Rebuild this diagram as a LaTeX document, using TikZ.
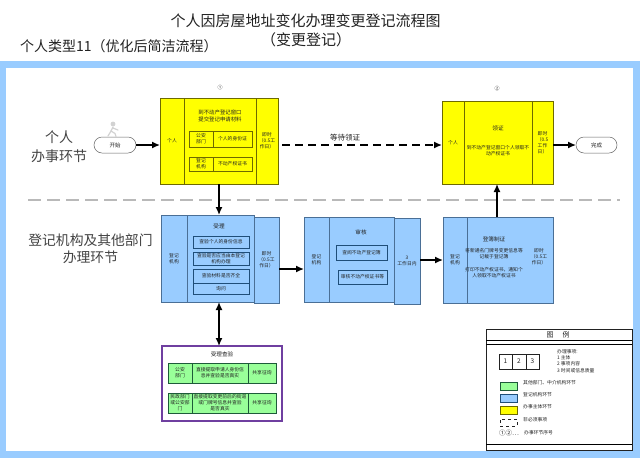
\documentclass[tikz,border=0pt]{standalone}
\usepackage{fontspec}
\setmainfont{Noto Sans CJK SC}
\usetikzlibrary{arrows.meta,calc}
\definecolor{regblue}{HTML}{99CCFF}
\definecolor{ownyellow}{HTML}{FFFF00}
\definecolor{agencygreen}{HTML}{99FF99}
\definecolor{ink}{HTML}{222222}
\definecolor{olive}{HTML}{6E6A00}
\definecolor{steel}{HTML}{4A6F96}
\definecolor{navy}{HTML}{1F4E79}
\definecolor{dkgreen}{HTML}{1E5B3A}
\definecolor{violet}{HTML}{6F3FA0}
\tikzset{
  txt/.style={text=ink,font=\fontsize{4.8}{6}\selectfont,align=center,inner sep=0pt},
  basebox/.style={txt,inner sep=0pt,outer sep=0pt,anchor=north west},
  yel/.style={basebox,draw=olive,fill=ownyellow,line width=.7pt},
  yelsub/.style={basebox,draw=olive,fill=ownyellow,line width=.6pt},
  blu/.style={basebox,draw=steel,fill=regblue,line width=.7pt},
  blusub/.style={basebox,draw=navy,fill=regblue,line width=.6pt},
  grn/.style={basebox,draw=dkgreen,fill=agencygreen,line width=.7pt},
  pill/.style={basebox,draw=ink!70,fill=white,rounded corners=8pt,line width=.5pt},
  flow/.style={draw=black,line width=1.4pt,-{Latex[length=8pt,width=7pt]}},
  plain/.style={draw=black,line width=.6pt},
  heading/.style={text=ink,inner sep=0pt,align=center}
}
% box given by its two corners: name, x1, y1, x2, y2, style, text
\newcommand{\bx}[7]{\node[#6,minimum width={#4-#2},minimum height={#5-#3}] (#1) at (#2,#3) {#7};}
\begin{document}
\begin{tikzpicture}[x=1pt,y=-1pt]
\useasboundingbox (0,0) rectangle (640,459);
\fill[white] (0,0) rectangle (640,459);

% outer band
\fill[regblue] (0,61) rectangle (640,458);
\fill[white] (6,68) rectangle (633,451);

% titles
\node[heading,font=\fontsize{15}{18}\selectfont] (title) at (305.5,21) {个人因房屋地址变化办理变更登记流程图};
\node[heading,font=\fontsize{15}{18}\selectfont] (subtitle) at (306,40) {（变更登记）};
\node[heading,font=\fontsize{14}{17}\selectfont,anchor=west] (kind) at (20,46) {个人类型11（优化后简洁流程）};

% lane labels and divider
\node[heading,text=ink!85,font=\fontsize{14}{19}\selectfont] (lanea) at (59,146.5) {个人\\办事环节};
\node[heading,text=ink!85,font=\fontsize{13.8}{17.5}\selectfont] (laneb) at (90.5,248.5) {登记机构及其他部门\\办理环节};
\coordinate (divl) at (28,200);
\coordinate (divr) at (620,200);
\draw[gray!55,line width=1.8pt,dash pattern=on 13pt off 6pt] (divl) -- (divr);

% start and finish
\bx{start}{94}{137}{136}{153}{pill}{\fontsize{5.5}{6}\selectfont 开始}
\bx{finish}{576}{137}{617}{153}{pill}{\fontsize{5.5}{6}\selectfont 完成}
\begin{scope}[gray!35,line width=1.2pt,line cap=round]
  \fill (113,124) circle (2.4);
  \draw (113,127) -- (111,131) -- (115,133.5) -- (116,136.5);
  \draw (111,131) -- (108,136);
  \draw (113,128) -- (118,130);
\end{scope}

% step 1: applicant submits
\node[txt,font=\fontsize{5}{6}\selectfont] (numa) at (220,88) {①};
\bx{ya}{160}{98}{278}{184}{yel}{}
\bx{yaa}{160}{98}{184}{184}{yel}{个人}
\bx{yac}{184}{98}{256}{184}{yel}{}
\bx{yat}{256}{98}{278}{184}{yel}{即时\\（0.5工\\作日）}
\node[txt,font=\fontsize{5.4}{7.4}\selectfont] (yah) at (220,116) {到不动产登记窗口\\提交登记申请材料};
\bx{ysa}{189}{131}{213}{147}{yelsub}{公安\\部门}
\bx{ysb}{213}{131}{252}{147}{yelsub}{个人的身份证}
\bx{ysc}{189}{157}{213}{171}{yelsub}{登记\\机构}
\bx{ysd}{213}{157}{252}{171}{yelsub}{不动产权证书}

% step 2: applicant collects
\node[txt,font=\fontsize{5}{6}\selectfont] (numb) at (497,89) {②};
\bx{yb}{442}{101}{553}{184}{yel}{}
\bx{yba}{442}{101}{464}{184}{yel}{个人}
\bx{ybc}{464}{101}{532}{184}{yel}{}
\bx{ybt}{532}{101}{553}{184}{yel}{即时\\（0.5\\工作\\日）}
\node[txt,font=\fontsize{5.6}{7}\selectfont] (ybh) at (498,128) {领证};
\node[txt] (ybx) at (498,151) {到不动产登记窗口个人领取不\\动产权证书};

% acceptance
\bx{bat}{254}{217}{279}{303}{blu}{即时\\（0.5工\\作日）}
\bx{ba}{161}{215}{254}{302}{blu}{}
\bx{baa}{161}{215}{187}{302}{blu}{登记\\机构}
\node[txt,font=\fontsize{5.6}{7}\selectfont] (bah) at (219,226) {受理};
\bx{bsa}{193}{236}{249}{248}{blusub}{查验个人的身份信息}
\bx{bsb}{193}{252}{249}{265}{blusub}{查验是否应当由本登记\\机构办理}
\bx{bsc}{193}{269}{249}{283}{blusub}{查验材料是否齐全}
\bx{bsd}{193}{283}{249}{294}{blusub}{询问}

% review
\bx{bbt}{394}{218}{420}{304}{blu}{3\\工作日内}
\bx{bb}{304}{217}{394}{302}{blu}{}
\bx{bba}{304}{217}{329}{302}{blu}{登记\\机构}
\node[txt,font=\fontsize{5.6}{7}\selectfont] (bbh) at (361,232) {审核};
\bx{bsf}{336}{245}{387}{260}{blusub}{查阅不动产登记簿}
\bx{bsg}{338}{270}{387}{284}{blusub}{审核不动产权证书等}

% entry and certificate
\bx{bc}{443}{217}{553}{303}{blu}{}
\bx{bca}{443}{217}{467}{303}{blu}{登记\\机构}
\node[txt,font=\fontsize{5.6}{7}\selectfont] (bch) at (494,239) {登簿制证};
\node[txt] (bcx) at (494,254) {将新通名门牌号变更信息等\\记载于登记簿};
\node[txt] (bcy) at (494,273) {打印不动产权证书，通知个\\人领取不动产权证书};
\node[txt] (bct) at (539,257) {即时\\（0.5工\\作日）};

% joint inspection
\bx{gout}{162}{346}{282}{421}{basebox,draw=violet,fill=white,line width=1.3pt}{}
\node[txt,font=\fontsize{5.6}{7}\selectfont] (gh) at (222,354) {受理查验};
\bx{gaa}{168}{363}{192}{383}{grn}{公安\\部门}
\bx{gab}{192}{363}{248}{383}{grn}{直接提取申请人身份信\\息并查验是否真实}
\bx{gac}{248}{363}{276}{383}{grn}{共享征询}
\bx{gba}{168}{393}{192}{413}{grn}{民政部门\\或公安部\\门}
\bx{gbb}{192}{393}{248}{413}{grn}{直接提取变更前后的街道\\或门牌号信息并查验\\是否真实}
\bx{gbc}{248}{393}{276}{413}{grn}{共享征询}

% connectors
\draw[flow] (start.east) -- (start.east -| ya.west);
\draw[flow,dash pattern=on 8pt off 5pt] ([xshift=4pt]ya.east |- start.east) -- (yb.west |- start.east);
\node[heading,font=\fontsize{7.5}{9}\selectfont,inner xsep=1pt] (wait) at (345,138) {等待领证};
\draw[flow] (yb.east |- finish.west) -- (finish.west);
\draw[flow] (ya.south -| bah) -- (ba.north -| bah);
\draw[flow] (bat.east |- bsc.north) -- (bba.west |- bsc.north);
\draw[flow] (bbt.east |- bsf.south) -- (bca.west |- bsf.south);
\draw[flow] (bc.north -| numb) -- (yb.south -| numb);
\draw[draw=black,line width=1.4pt,{Latex[length=8pt,width=7pt]}-{Latex[length=8pt,width=7pt]}] (ba.south -| bah) -- (gout.north -| bah);

% legend
\bx{lg}{486}{329}{632}{450}{basebox,draw=ink,fill=white,line width=.8pt}{}
\coordinate (lga) at (486,340); \coordinate (lgb) at (486,344); \coordinate (lgc) at (486,444);
\draw[plain] (lga) -- (lga -| lg.east);
\draw[plain] (lgb) -- (lgb -| lg.east);
\draw[plain] (lgc) -- (lgc -| lg.east);
\node[txt,font=\fontsize{7}{8}\selectfont] (lgt) at (558,335) {图\hspace{9pt}例};
\bx{la}{499}{354}{512}{369}{basebox,draw=ink,fill=white,line width=.5pt}{\fontsize{6.5}{7}\selectfont 1}
\bx{lb}{512}{354}{526}{369}{basebox,draw=ink,fill=white,line width=.5pt}{\fontsize{6.5}{7}\selectfont 2}
\bx{lc}{526}{354}{539}{369}{basebox,draw=ink,fill=white,line width=.5pt}{\fontsize{6.5}{7}\selectfont 3}
\node[txt,anchor=north west,align=left,font=\fontsize{4.8}{6.3}\selectfont] (lnote) at (557,349) {办理事项:\\1 主体\\2 事项内容\\3 时间或信息质量};
\bx{lsa}{500}{382}{517}{390}{basebox,draw=dkgreen,fill=agencygreen,line width=.8pt}{}
\bx{lsb}{500}{394}{517}{402}{basebox,draw=navy,fill=regblue,line width=.8pt}{}
\bx{lsc}{500}{406}{517}{414}{basebox,draw=olive,fill=ownyellow,line width=.8pt}{}
\bx{lsd}{500}{419}{517}{426}{basebox,draw=ink,dashed,line width=.8pt}{}
\node[txt,anchor=west] (lta) at (523,383) {其他部门、中介机构环节};
\node[txt,anchor=west] (ltb) at (523,395) {登记机构环节};
\node[txt,anchor=west] (ltc) at (523,407) {办事主体环节};
\node[txt,anchor=west] (ltd) at (523,420) {非必须事项};
\node[txt,anchor=west,font=\fontsize{6.5}{7}\selectfont] (lte) at (499,433) {①②…};
\node[txt,anchor=west] (ltf) at (524,433) {办事环节序号};
\end{tikzpicture}
\end{document}
